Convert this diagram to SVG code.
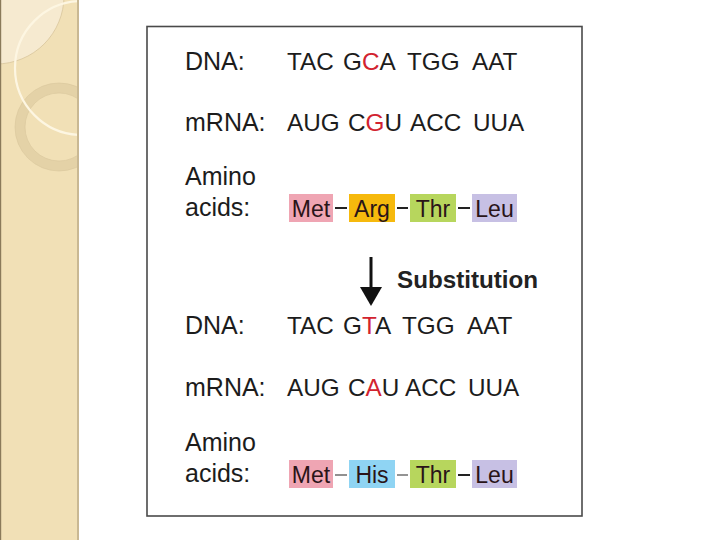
<svg xmlns="http://www.w3.org/2000/svg" width="720" height="540" viewBox="0 0 720 540">
<defs>
<style>
.t{font-family:"Liberation Sans",Arial,sans-serif;font-size:25px;fill:#1c1c1c}
.s{font-family:"Liberation Sans",Arial,sans-serif;font-size:24.3px;fill:#1c1c1c}
.r{fill:#d2232f}
.aa{font-family:"Liberation Sans",Arial,sans-serif;font-size:23px;fill:#2a1418;text-anchor:middle}
.d{stroke:#222;stroke-width:2}
</style>
<clipPath id="strip"><rect x="0" y="0" width="78" height="540"/></clipPath>
</defs>
<rect width="720" height="540" fill="#ffffff"/>
<g id="sidebar">
<rect x="0" y="0" width="78" height="540" fill="#f1e0b6"/>
<g clip-path="url(#strip)">
<circle cx="-4" cy="-4" r="68" fill="#f6ead0" stroke="#d8c59c" stroke-width="0.8"/>
<circle cx="59" cy="127" r="39" fill="none" stroke="#e4d2a7" stroke-width="10"/>
<circle cx="59" cy="127" r="44" fill="none" stroke="#d9c69c" stroke-width="0.6"/>
<circle cx="59" cy="127" r="34" fill="none" stroke="#d9c69c" stroke-width="0.6"/>
<circle cx="82" cy="68" r="67" fill="none" stroke="#fdf6e2" stroke-width="2.2"/>
</g>
<rect x="0" y="0" width="1.2" height="540" fill="#8a7a5a"/>
<rect x="77" y="0" width="2" height="540" fill="#c9b893"/>
</g>
<g id="frame">
<rect x="147" y="26.5" width="435" height="489.5" fill="#ffffff" stroke="#4a4a4a" stroke-width="1.6"/>
</g>
<g id="before">
<text class="t" x="185" y="70">DNA:</text>
<g class="s">
<text x="287" y="70">TAC</text><text x="343" y="70">G<tspan class="r">C</tspan>A</text><text x="407" y="70">TGG</text><text x="472" y="70">AAT</text>
</g>
<text class="t" x="185" y="131">mRNA:</text>
<g class="s">
<text x="287" y="131">AUG</text><text x="348" y="131">C<tspan class="r">G</tspan>U</text><text x="410" y="131">ACC</text><text x="473" y="131">UUA</text>
</g>
<text class="t" x="185" y="185">Amino</text>
<text class="t" x="185" y="216">acids:</text>
<g id="met1"><rect x="289" y="194" width="44" height="28" fill="#efa5b3"/><text class="aa" x="311" y="216.5">Met</text></g>
<g id="arg1"><rect x="349" y="194" width="46" height="28" fill="#f6b90d"/><text class="aa" x="372" y="216.5">Arg</text></g>
<g id="thr1"><rect x="410" y="194" width="46" height="28" fill="#b7d65d"/><text class="aa" x="433" y="216.5">Thr</text></g>
<g id="leu1"><rect x="472" y="194" width="45" height="28" fill="#c7c0e4"/><text class="aa" x="494.5" y="216.5">Leu</text></g>
<line class="d" x1="335" y1="208" x2="347" y2="208"/>
<line class="d" x1="397" y1="208" x2="408" y2="208"/>
<line class="d" x1="458" y1="208" x2="470" y2="208"/>
</g>
<g id="connectors">
<line x1="371" y1="257" x2="371" y2="290" stroke="#111" stroke-width="3"/>
<polygon points="360,287 382,287 371,306" fill="#111"/>
</g>
<text x="397" y="288" font-family="Liberation Sans, Arial, sans-serif" font-size="24.2" font-weight="bold" fill="#222">Substitution</text>
<g id="after">
<text class="t" x="185" y="334">DNA:</text>
<g class="s">
<text x="287" y="334">TAC</text><text x="343" y="334">G<tspan class="r">T</tspan>A</text><text x="402" y="334">TGG</text><text x="467" y="334">AAT</text>
</g>
<text class="t" x="185" y="396">mRNA:</text>
<g class="s">
<text x="287" y="396">AUG</text><text x="348" y="396">C<tspan class="r">A</tspan>U</text><text x="405" y="396">ACC</text><text x="468" y="396">UUA</text>
</g>
<text class="t" x="185" y="451">Amino</text>
<text class="t" x="185" y="482">acids:</text>
<g id="met2"><rect x="289" y="460" width="44" height="28" fill="#efa5b3"/><text class="aa" x="311" y="482.5">Met</text></g>
<g id="his2"><rect x="349" y="460" width="46" height="28" fill="#8fd4f3"/><text class="aa" x="372" y="482.5">His</text></g>
<g id="thr2"><rect x="410" y="460" width="46" height="28" fill="#b7d65d"/><text class="aa" x="433" y="482.5">Thr</text></g>
<g id="leu2"><rect x="472" y="460" width="45" height="28" fill="#c7c0e4"/><text class="aa" x="494.5" y="482.5">Leu</text></g>
<line x1="335" y1="475" x2="347" y2="475" stroke="#555" stroke-width="1.3"/>
<line x1="397" y1="475" x2="408" y2="475" stroke="#666" stroke-width="1.4"/>
<line class="d" x1="458" y1="475" x2="470" y2="475"/>
</g>
</svg>
